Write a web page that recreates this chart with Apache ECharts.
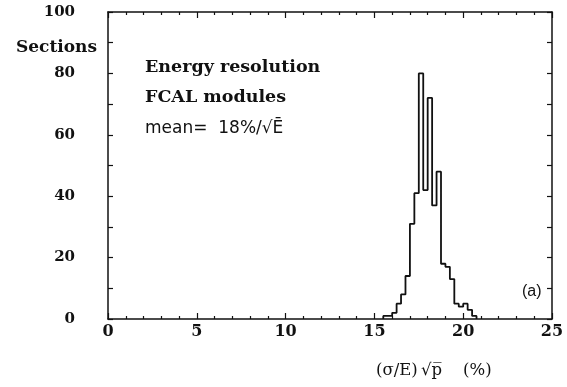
<!DOCTYPE html>
<html>
<head>
<meta charset="utf-8">
<script src="https://cdn.jsdelivr.net/npm/echarts@6/dist/echarts.min.js"></script>
<style>
  html, body { margin: 0; padding: 0; background: #fff; }
  #chart { width: 567px; height: 387px; }
</style>
</head>
<body>
<div id="chart"></div>
<script>
// Lower edges of the histogram bins, in (sigma/E)*sqrt(p) percent
const binStarts = [15.5, 15.75, 16.0, 16.25, 16.5, 16.75, 17.0, 17.25, 17.5, 17.75,
                   18.0, 18.25, 18.5, 18.75, 19.0, 19.25, 19.5, 19.75, 20.0, 20.25, 20.5];
// Number of calorimeter sections in each bin
const sectionCounts = [1, 1, 2, 5, 8, 14, 31, 41, 80, 42,
                       72, 37, 48, 18, 17, 13, 5, 4, 5, 3, 1];
const binWidth = 0.25;
const xTickLabels = [0, 5, 10, 15, 20, 25];
const yTickLabels = [0, 20, 40, 60, 80, 100];

// Outline of the histogram as a stepped polyline
const outline = [[binStarts[0], 0]];
binStarts.forEach((x, i) => outline.push([x, sectionCounts[i]]));
const lastEdge = binStarts[binStarts.length - 1] + binWidth;
outline.push([lastEdge, sectionCounts[sectionCounts.length - 1]]);
outline.push([lastEdge, 0]);

const ink = '#111';
const serifBold = { fontFamily: 'DejaVu Serif', fontWeight: 'bold', color: ink };

const frameLine = { show: true, onZero: false, lineStyle: { color: ink, width: 1.5 } };
const tickStyle = { color: ink, width: 1.2 };

function xAxisDef(position, withLabels) {
  return {
    type: 'value', min: 0, max: 25, interval: 5, position: position,
    axisLine: frameLine,
    splitLine: { show: false },
    axisTick: { show: true, inside: true, length: 6, lineStyle: tickStyle },
    minorTick: { show: true, splitNumber: 5, length: 3, lineStyle: tickStyle },
    axisLabel: withLabels
      ? Object.assign({ fontSize: 16, margin: 5,
          formatter: v => xTickLabels.includes(v) ? String(v) : '' }, serifBold)
      : { show: false }
  };
}

function yAxisDef(position, withLabels) {
  return {
    type: 'value', min: 0, max: 100, interval: 10, position: position,
    axisLine: frameLine,
    splitLine: { show: false },
    axisTick: { show: true, inside: true, length: 5, lineStyle: tickStyle },
    axisLabel: withLabels
      ? Object.assign({ fontSize: 15, margin: 33,
          formatter: v => yTickLabels.includes(v) ? String(v) : '' }, serifBold)
      : { show: false }
  };
}

const chart = echarts.init(document.getElementById('chart'), null, { renderer: 'canvas' });
chart.setOption({
  animation: false,
  backgroundColor: '#fff',
  grid: { left: 108, right: 15, top: 12, bottom: 68 },
  xAxis: [xAxisDef('bottom', true), xAxisDef('top', false)],
  yAxis: [yAxisDef('left', true), yAxisDef('right', false)],
  series: [{
    type: 'line',
    xAxisIndex: 0, yAxisIndex: 0,
    step: 'end',
    data: outline,
    symbol: 'none',
    lineStyle: { color: ink, width: 1.8 }
  }],
  graphic: [
    { type: 'text', right: 567 - 97, top: 39,
      style: Object.assign({ text: 'Sections', fontSize: 17 }, serifBold, { fill: ink }) },
    { type: 'text', left: 145, top: 58,
      style: Object.assign({ text: 'Energy resolution', fontSize: 17.5 }, serifBold, { fill: ink }) },
    { type: 'text', left: 145, top: 88,
      style: Object.assign({ text: 'FCAL modules', fontSize: 17.5 }, serifBold, { fill: ink }) },
    { type: 'text', left: 145, top: 120,
      style: { text: 'mean=  18%/\u221A\u0112', fontSize: 17, fontFamily: 'DejaVu Sans', fill: ink } },
    { type: 'text', left: 522, top: 284,
      style: { text: '(a)', fontSize: 16, fontFamily: 'Liberation Sans', fill: ink } },
    { type: 'text', left: 376, top: 362,
      style: { text: '(\u03C3/E)\u2009\u221Ap\u0305    (%)', fontSize: 16.5, fontFamily: 'DejaVu Serif', fill: ink } }
  ]
});
</script>
</body>
</html>
